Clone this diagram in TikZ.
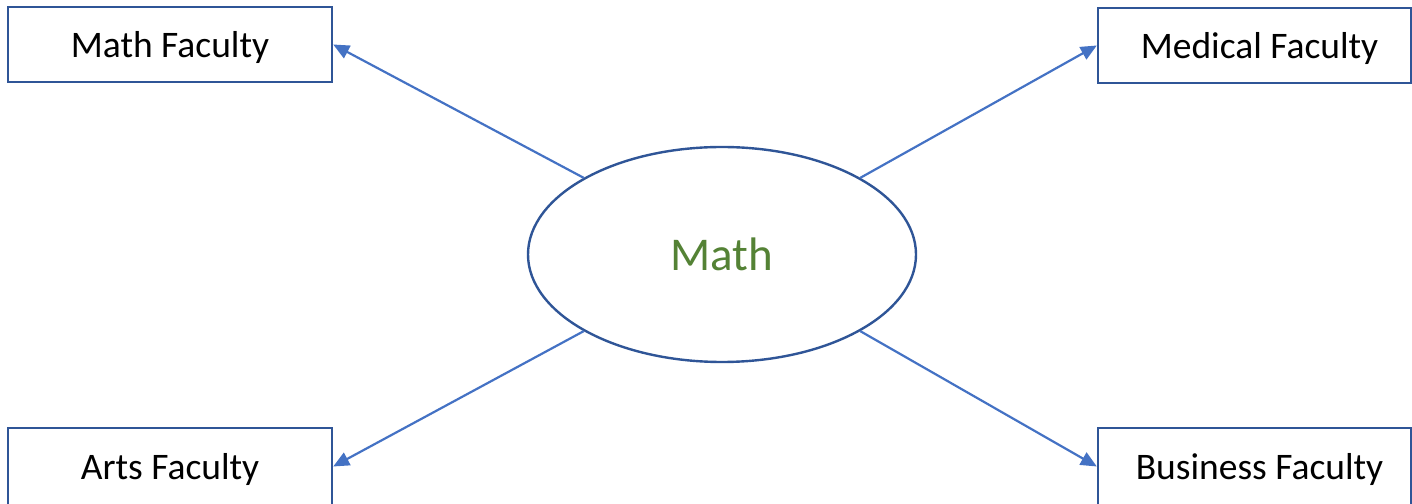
\documentclass[tikz,border=0pt]{standalone}
\usepackage{fontspec}
\setmainfont{Carlito}
\usetikzlibrary{shapes.geometric,arrows.meta}
\definecolor{boxblue}{HTML}{2F5597}
\definecolor{arrblue}{HTML}{4472C4}
\definecolor{mathgreen}{HTML}{548235}
\tikzset{
  fac/.style={draw=boxblue, line width=2.4pt, fill=white, rectangle, inner sep=0pt,
    text height=31pt, text depth=5pt,
    font=\fontsize{37.5}{44}\selectfont, text=black},
  hub/.style={draw=boxblue, line width=2.4pt, fill=white, ellipse, inner sep=0pt,
    minimum width=388pt, minimum height=215pt, font=\fontsize{47}{56}\selectfont, text=mathgreen},
  arr/.style={draw=arrblue, line width=2.2pt, -{Triangle[length=16pt,width=14pt]}}
}
\begin{document}
\begin{tikzpicture}[x=1pt,y=1pt]
\useasboundingbox (0,0) rectangle (1412,503);
\node[hub] (el) at (722,248.5) {Math};
\node[fac, minimum width=324pt, minimum height=75pt] (mf) at (170,458.5) {Math Faculty};
\node[fac, minimum width=313pt, minimum height=75pt] (md) at (1254.5,457.5) {\hspace*{10pt}Medical Faculty};
\node[fac, minimum width=324pt, minimum height=77pt] (ar) at (170,36.5) {Arts Faculty};
\node[fac, minimum width=313pt, minimum height=77pt] (bu) at (1254.5,36.5) {\hspace*{10pt}Business Faculty};
\draw[arr] (el.151) -- (mf.east);
\draw[arr] (el.29) -- (md.west);
\draw[arr] (el.209) -- (ar.east);
\draw[arr] (el.331) -- (bu.west);
\end{tikzpicture}
\end{document}
